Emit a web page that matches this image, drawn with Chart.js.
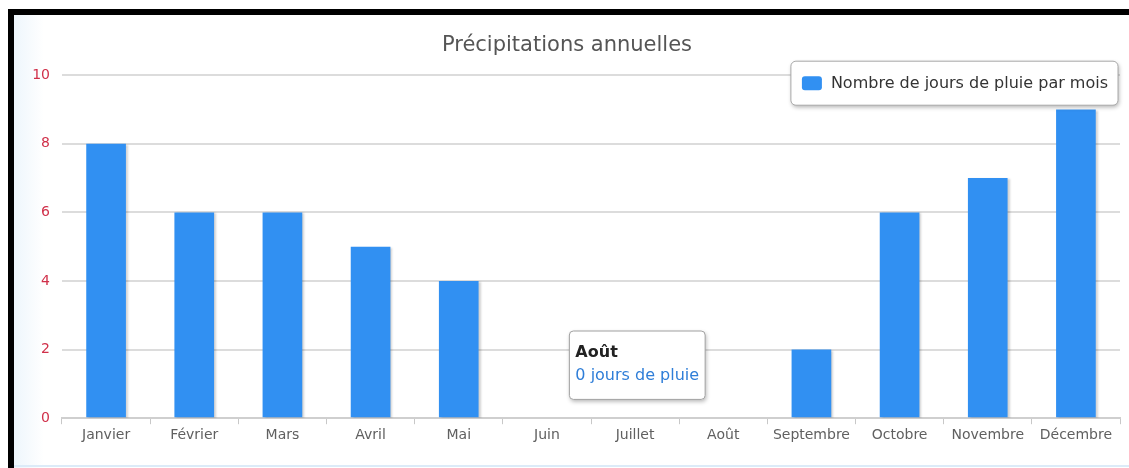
<!DOCTYPE html>
<html>
<head>
<meta charset="utf-8">
<title>Précipitations annuelles</title>
<script src="https://cdn.jsdelivr.net/npm/chart.js@4/dist/chart.umd.min.js"></script>
<style>
  body { margin: 0; background: #fff; }
  #frame {
    position: absolute; left: 8px; top: 9px;
    width: 1121px; height: 459px; box-sizing: border-box;
    border-top: 6px solid #000; border-left: 6px solid #000;
    background: linear-gradient(to right, #eef6fc 0px, #fff 30px);
  }
  #wrap {
    position: absolute; left: 0; top: 0;
    width: 1115px; height: 450px;
    border-bottom: 2px solid #dcebf8;
  }
</style>
</head>
<body>
<div id="frame"><div id="wrap"><canvas id="myChart"></canvas></div></div>
<script>
const months = ['Janvier', 'Février', 'Mars', 'Avril', 'Mai', 'Juin', 'Juillet', 'Août', 'Septembre', 'Octobre', 'Novembre', 'Décembre'];
const rainyDays = [8, 6, 6, 5, 4, 0, 0, 0, 2, 6, 7, 9];
const yTicks = [0, 2, 4, 6, 8, 10];
const seriesName = 'Nombre de jours de pluie par mois';
const chartTitle = 'Précipitations annuelles';
const hoverIndex = 7;

const barColor = '#3190f2';
const fontFamily = '"DejaVu Sans", sans-serif';

// tooltip sits left of the hovered bar, like in the screenshot
Chart.Tooltip.positioners.besideBar = function(items) {
    if (!items.length) return false;
    const el = items[0].element;
    return { x: el.x - 86, y: el.y - 53, xAlign: 'center', yAlign: 'center' };
};

const barShadow = {
    id: 'barShadow',
    beforeDatasetsDraw(chart) {
        const ctx = chart.ctx;
        ctx.save();
        ctx.shadowColor = 'rgba(0,0,0,0.18)';
        ctx.shadowBlur = 2;
        ctx.shadowOffsetX = 2;
        ctx.shadowOffsetY = 1;
    },
    afterDatasetsDraw(chart) {
        chart.ctx.restore();
    }
};

const tooltipShadow = {
    id: 'tooltipShadow',
    beforeTooltipDraw(chart, args) {
        const t = args.tooltip;
        if (!t.opacity) return;
        const ctx = chart.ctx;
        ctx.save();
        ctx.shadowColor = 'rgba(0,0,0,0.3)';
        ctx.shadowBlur = 4;
        ctx.shadowOffsetX = 1;
        ctx.shadowOffsetY = 2;
        ctx.beginPath();
        ctx.roundRect(t.x, t.y, t.width, t.height, 4);
        ctx.fillStyle = '#fff';
        ctx.fill();
        ctx.restore();
    }
};

// legend drawn as a floating box over the top right of the plot
const legendBox = {
    id: 'legendBox',
    afterDraw(chart) {
        const ctx = chart.ctx, area = chart.chartArea;
        const label = chart.data.datasets[0].label;
        ctx.save();
        ctx.font = '16px ' + fontFamily;
        const tw = ctx.measureText(label).width;
        const w = tw + 50, h = 44;
        const x = area.right - 2 - w, y = area.top - 14;
        ctx.shadowColor = 'rgba(0,0,0,0.3)';
        ctx.shadowBlur = 4;
        ctx.shadowOffsetX = 1;
        ctx.shadowOffsetY = 2;
        ctx.beginPath();
        ctx.roundRect(x, y, w, h, 5);
        ctx.fillStyle = '#fff';
        ctx.fill();
        ctx.shadowColor = 'transparent';
        ctx.strokeStyle = '#a8a8a8';
        ctx.lineWidth = 1;
        ctx.stroke();
        ctx.fillStyle = barColor;
        ctx.beginPath();
        ctx.roundRect(x + 11, y + h / 2 - 7, 20, 14, 3);
        ctx.fill();
        ctx.fillStyle = '#333';
        ctx.textBaseline = 'middle';
        ctx.fillText(label, x + 40, y + h / 2 + 1);
        ctx.restore();
    }
};

const chart = new Chart(document.getElementById('myChart'), {
    type: 'bar',
    data: {
        labels: months,
        datasets: [{
            label: seriesName,
            data: rainyDays,
            backgroundColor: barColor,
            borderWidth: 0,
            barPercentage: 0.45,
            categoryPercentage: 1
        }]
    },
    options: {
        responsive: true,
        maintainAspectRatio: false,
        animation: false,
        events: [],
        layout: { padding: { left: 0, right: 9, top: 0, bottom: 18 } },
        plugins: {
            legend: { display: false },
            title: {
                display: true,
                text: chartTitle,
                color: '#555',
                font: { family: fontFamily, size: 21, weight: 'normal' },
                padding: { top: 18, bottom: 17 }
            },
            tooltip: {
                position: 'besideBar',
                backgroundColor: 'rgba(255,255,255,0.95)',
                borderColor: '#a0a0a0',
                borderWidth: 1,
                cornerRadius: 4,
                caretSize: 0,
                displayColors: false,
                padding: { top: 12, bottom: 14, left: 6, right: 6 },
                titleColor: '#222',
                titleFont: { family: fontFamily, size: 16, weight: 'bold' },
                titleMarginBottom: 4,
                bodyColor: '#2f7ed8',
                bodyFont: { family: fontFamily, size: 16 },
                callbacks: {
                    label: ctx => ctx.parsed.y + ' jours de pluie'
                }
            }
        },
        scales: {
            x: {
                grid: { drawOnChartArea: false, drawTicks: true, tickLength: 6, color: '#c8c8c8', lineWidth: 1 },
                border: { display: true, color: '#cfcfcf', width: 2 },
                ticks: {
                    color: '#606060', padding: 3, maxRotation: 0, minRotation: 0, autoSkip: false,
                    font: { family: fontFamily, size: 14 }
                }
            },
            y: {
                min: yTicks[0],
                max: yTicks[yTicks.length - 1],
                afterFit: scale => { scale.width = 48; },
                ticks: { stepSize: yTicks[1] - yTicks[0], color: '#d0304a', padding: 12, font: { family: fontFamily, size: 14 } },
                grid: { color: '#dcdcdc', lineWidth: 2, drawTicks: false },
                border: { display: false }
            }
        }
    },
    plugins: [barShadow, tooltipShadow, legendBox]
});

chart.tooltip.setActiveElements([{ datasetIndex: 0, index: hoverIndex }], { x: 0, y: 0 });
chart.update();
</script>
</body>
</html>
